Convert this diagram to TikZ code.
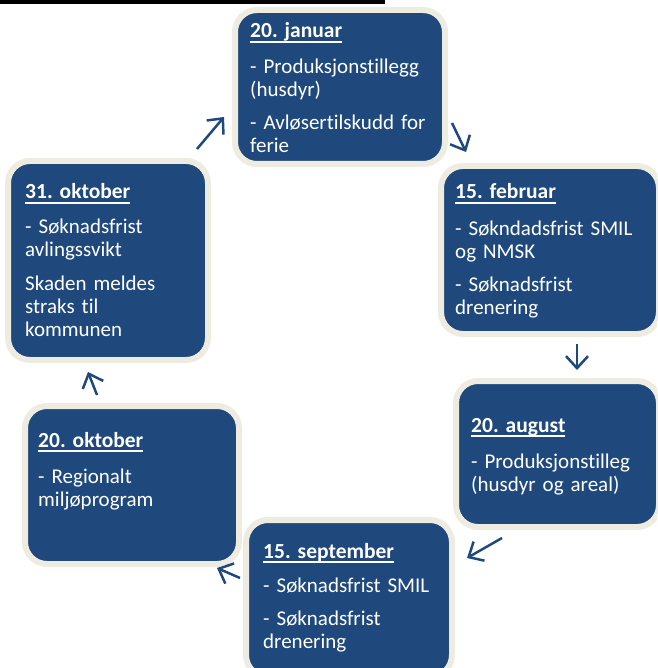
\documentclass[tikz,border=0pt]{standalone}
\usepackage{fontspec}
\setmainfont{Carlito}[Ligatures=NoCommon]
\usepackage{tikz}
\usetikzlibrary{arrows.meta, positioning}

\definecolor{cycleblue}{HTML}{1F497D}
\definecolor{cyclerim}{HTML}{EEECE1}
\frenchspacing
\newcommand{\cyclefont}{\fontsize{21}{23}\selectfont}
\newcommand{\datetitle}[1]{{\fontsize{21.5}{23}\selectfont\bfseries
    \setbox0=\hbox{#1}\rlap{\copy0}\rule[-5pt]{\wd0}{1.8pt}}}

\begin{document}
\begin{tikzpicture}[x=1pt, y=-1pt, >={Straight Barb[length=12pt, width=22pt]},
        datebox/.style={rectangle, draw=cyclerim, line width=6pt, fill=cycleblue, rounded corners=22pt},
        datetext/.style={anchor=base west, text=white, align=left, text width=200pt, inner sep=0pt, font=\cyclefont},
        cyclearrow/.style={->, draw=cycleblue, line width=2.5pt}]

    \useasboundingbox (0,0) rectangle (657,668);
    \clip (0,0) rectangle (657,668);

    % black bar on top
    \fill[black] (0,0) rectangle (385,4.5);

    % the six boxes
    \node (jan) [datebox, minimum width=210pt, minimum height=154pt] at (340,87) {};
    \node (feb) [datebox, minimum width=218pt, minimum height=168pt] at (550,250) {};
    \node (aug) [datebox, minimum width=203pt, minimum height=146pt] at (557.5,454) {};
    \node (sep) [datebox, minimum width=206pt, minimum height=157pt] at (349,598.5) {};
    \node (okt20) [datebox, minimum width=214pt, minimum height=158pt] at (132,485) {};
    \node (okt31) [datebox, minimum width=200pt, minimum height=199pt] at (108,260.5) {};

    % texts
    \node (jantext) [datetext] at (250,38) {\datetitle{20. januar}\\[13pt]
        - Produksjonstillegg\\(husdyr)\\[10pt]- Avløsertilskudd for\\ferie};
    \node (febtext) [datetext] at (455,199) {\datetitle{15. februar}\\[13pt]
        - Søkndadsfrist SMIL\\og NMSK\\[10pt]- Søknadsfrist\\drenering};
    \node (augtext) [datetext] at (471,432) {\datetitle{20. august}\\[13pt]
        - Produksjonstilleg\\(husdyr og areal)};
    \node (septext) [datetext] at (263,558) {\datetitle{15. september}\\[11pt]
        - Søknadsfrist SMIL\\[10pt]- Søknadsfrist\\drenering};
    \node (okt20text) [datetext] at (38,447) {\datetitle{20. oktober}\\[13pt]
        - Regionalt\\miljøprogram};
    \node (okt31text) [datetext] at (25,199) {\datetitle{31. oktober}\\[12pt]
        - Søknadsfrist\\avlingssvikt\\[10pt]Skaden meldes\\straks til\\kommunen};

    % arrows between the boxes
    \coordinate (a1s) at (197,149);  \coordinate (a1e) at (224,117);
    \coordinate (a2s) at (452,123);  \coordinate (a2e) at (466,152);
    \coordinate (a3s) at (577,344);  \coordinate (a3e) at (577,370);
    \coordinate (a4s) at (502,538);  \coordinate (a4e) at (467,558);
    \coordinate (a5s) at (240,578);  \coordinate (a5e) at (217,568);
    \coordinate (a6s) at (97,395);   \coordinate (a6e) at (88,372);

    \draw [cyclearrow] (a1s) -- (a1e);
    \draw [cyclearrow] (a2s) -- (a2e);
    \draw [cyclearrow] (a3s) -- (a3e);
    \draw [cyclearrow] (a4s) -- (a4e);
    \draw [cyclearrow] (a5s) -- (a5e);
    \draw [cyclearrow] (a6s) -- (a6e);

\end{tikzpicture}
\end{document}
